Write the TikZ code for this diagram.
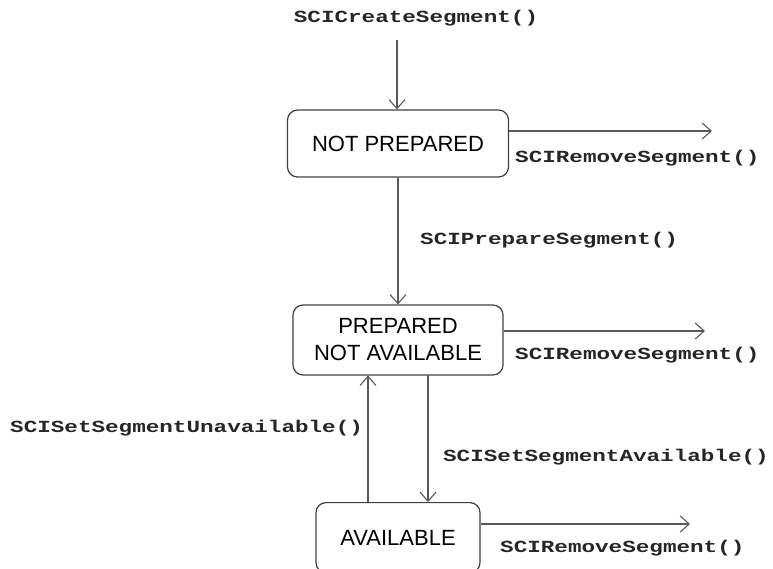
\documentclass[tikz,border=0pt]{standalone}
\usepackage{fontspec}
\setmainfont{Liberation Sans}
\newfontfamily\codefont[FakeStretch=1.33]{Liberation Mono}
\usetikzlibrary{arrows.meta}
\begin{document}
\begin{tikzpicture}[x=1pt,y=-1pt,
  state/.style={draw=black!75,line width=1.2pt,rounded corners=10pt,inner sep=0pt,font=\fontsize{22}{27}\selectfont,align=center},
  code/.style={font=\codefont\bfseries\fontsize{17}{20}\selectfont,inner sep=0pt,text=black!85},
  trans/.style={draw=black!65,line width=1.3pt,-{Straight Barb[length=9pt,width=16pt,line width=1.1pt]}}]
\useasboundingbox (0,0) rectangle (773,569);
% states
\node[state,minimum width=221pt,minimum height=67pt] (np) at (398,143.5) {NOT PREPARED};
\node[state,minimum width=210pt,minimum height=70pt] (pna) at (398,340) {PREPARED\\NOT AVAILABLE};
\node[state,minimum width=164pt,minimum height=70pt,anchor=north] (av) at (398,502) {AVAILABLE};
% end coordinates
\coordinate (start) at (397,40);
\coordinate (e1) at (712,131);
\coordinate (e2) at (705,331);
\coordinate (e3) at (690,524);
% transitions
\draw[trans] (start) -- (start|-np.north);
\draw[trans] (np.south) -- (pna.north);
\draw[trans] (np.east|-e1) -- (e1);
\draw[trans] (pna.east|-e2) -- (e2);
\draw[trans] (av.east|-e3) -- (e3);
\draw[trans] (368,502) coordinate (u0) -- (u0|-pna.south);
\draw[trans] (428,375) coordinate (d0) -- (d0|-av.north);
% labels
\node[code] (l1) at (416,18) {SCICreateSegment()};
\node[code,anchor=west] (l2) at (420,240) {SCIPrepareSegment()};
\node[code,anchor=west] (l3) at (515,158) {SCIRemoveSegment()};
\node[code,anchor=west] (l4) at (515,355) {SCIRemoveSegment()};
\node[code,anchor=west] (l5) at (500,548) {SCIRemoveSegment()};
\node[code,anchor=west] (l6) at (10,428) {SCISetSegmentUnavailable()};
\node[code,anchor=east] (l7) at (769,457) {SCISetSegmentAvailable()};
\end{tikzpicture}
\end{document}
